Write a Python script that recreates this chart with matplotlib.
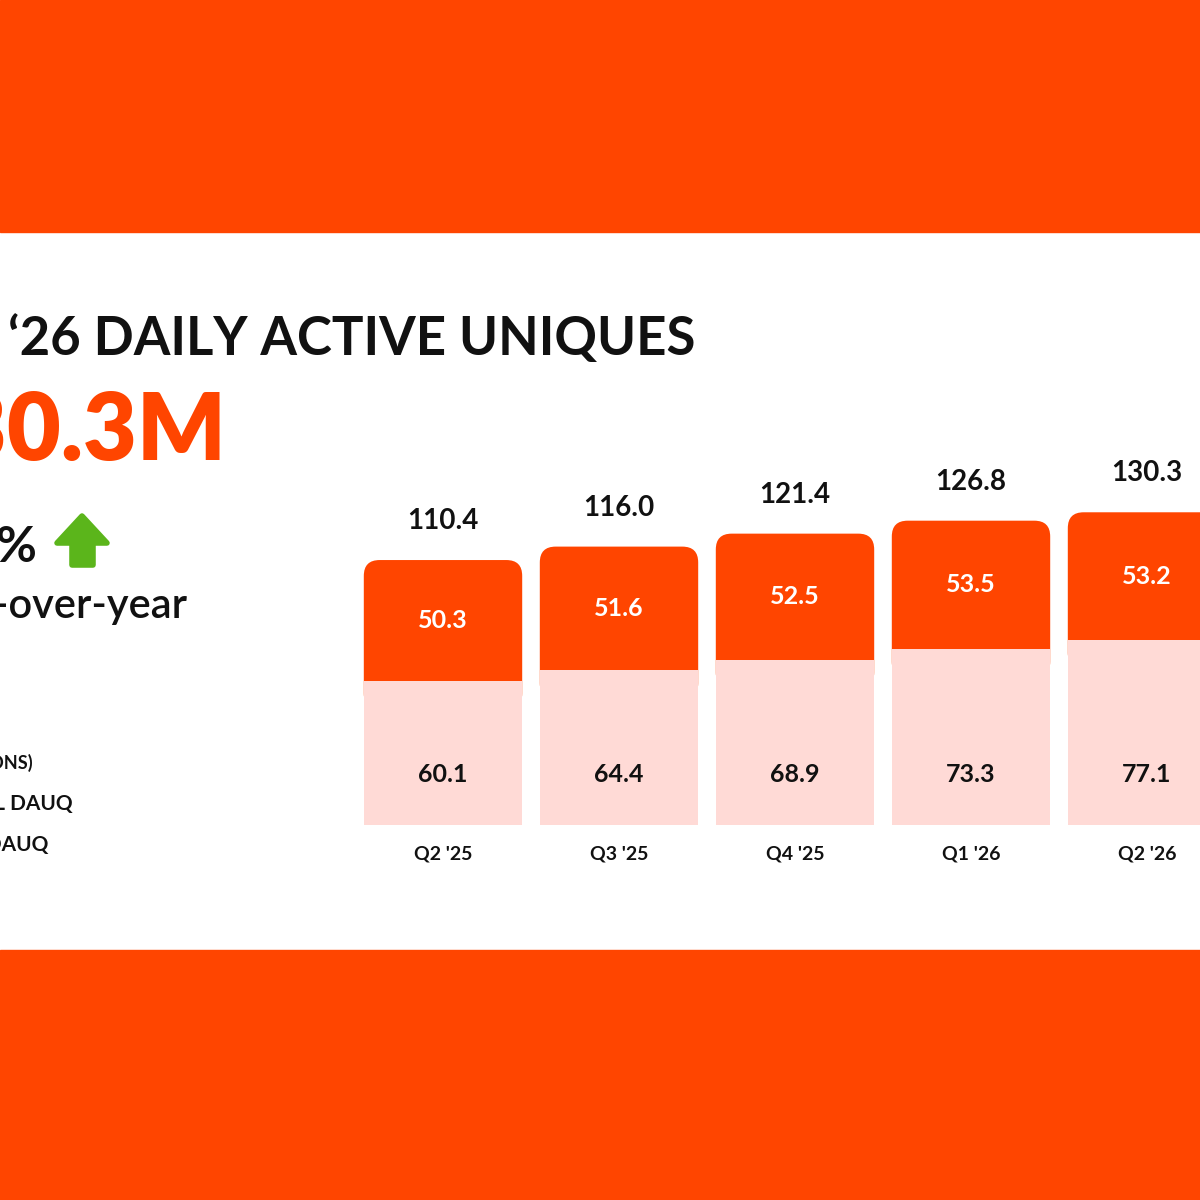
import numpy as np
import matplotlib
matplotlib.use("Agg")
import matplotlib.pyplot as plt
from matplotlib.patches import Rectangle, FancyBboxPatch, Polygon

plt.rcParams['font.family'] = ['Lato', 'DejaVu Sans']

quarters = ["Q2 '25", "Q3 '25", "Q4 '25", "Q1 '26", "Q2 '26"]
intl_dauq = [60.1, 64.4, 68.9, 73.3, 77.1]
us_dauq = [50.3, 51.6, 52.5, 53.5, 53.2]
totals = [110.4, 116.0, 121.4, 126.8, 130.3]

ORANGE = '#FF4500'
PINK = '#FFDAD6'
GREEN = '#5BB51B'
DARK = '#111111'

W, H = 1200, 1200
fig = plt.figure(figsize=(12, 12), dpi=100)
fig.patch.set_facecolor('white')

def fx(px):
    return px / W

def fy(py):
    return 1 - py / H

# orange bands top and bottom
fig.patches.append(Rectangle((0, fy(232)), 1, 232 / H, transform=fig.transFigure,
                             color=ORANGE, zorder=0))
fig.patches.append(Rectangle((0, 0), 1, 250 / H, transform=fig.transFigure,
                             color=ORANGE, zorder=0))

# left side text (cropped at the left edge in the reference)
fig.text(fx(695), fy(339), "Q2 \u201826 DAILY ACTIVE UNIQUES", ha='right', va='center',
         fontsize=38, fontweight='bold', color=DARK)
fig.text(fx(226), fy(433), "130.3M", ha='right', va='center',
         fontsize=67, fontweight='heavy', color=ORANGE)
fig.text(fx(38), fy(547), "18%", ha='right', va='center',
         fontsize=36, fontweight='bold', color=DARK)
fig.text(fx(187), fy(606), "Year-over-year", ha='right', va='center',
         fontsize=30, fontweight='semibold', color=DARK)
fig.text(fx(33), fy(763), "(IN MILLIONS)", ha='right', va='center',
         fontsize=13, fontweight='bold', color=DARK)
fig.text(fx(73), fy(804), "INTERNATIONAL DAUQ", ha='right', va='center',
         fontsize=15, fontweight='bold', color=DARK)
fig.text(fx(48), fy(845), "U.S. DAUQ", ha='right', va='center',
         fontsize=15, fontweight='bold', color=DARK)

# green up arrow
arrow_px = [(82, 516), (107, 543), (93, 543), (93, 565), (72, 565), (72, 543), (57, 543)]
fig.patches.append(Polygon([(fx(x), fy(y)) for x, y in arrow_px], closed=True,
                           transform=fig.transFigure, facecolor=GREEN, edgecolor=GREEN,
                           linewidth=4, joinstyle='round', zorder=2))

# bar chart axes: x unit = 176 px, y unit = 2.4 px, base at y=825 px
ax = fig.add_axes([fx(355), fy(825), 880 / W, 480 / H])
ax.set_xlim(-0.5, 4.5)
ax.set_ylim(0, 200)
ax.axis('off')
ax.patch.set_alpha(0)

x = np.arange(len(quarters))
width = 0.9
top_bars = ax.bar(x, us_dauq, width, bottom=intl_dauq, color=ORANGE, zorder=2)
# swap the orange rectangles for ones with rounded top corners
aspect = 176 / 2.4
for rect in top_bars:
    rect.set_visible(False)
    rb = FancyBboxPatch((rect.get_x(), rect.get_y() - 12), rect.get_width(),
                        rect.get_height() + 12,
                        boxstyle="round,pad=0,rounding_size=0.09",
                        mutation_aspect=aspect, facecolor=ORANGE, edgecolor='none',
                        zorder=2)
    ax.add_patch(rb)
ax.bar(x, intl_dauq, width, color=PINK, zorder=3)

for i in range(len(quarters)):
    ax.annotate(f"{totals[i]:.1f}", (x[i], totals[i]), xytext=(0, 28),
                textcoords='offset points', ha='center', va='center',
                fontsize=20, fontweight='bold', color=DARK)
    ax.text(x[i], intl_dauq[i] + us_dauq[i] / 2, f"{us_dauq[i]:.1f}", ha='center',
            va='center', fontsize=18, fontweight='bold', color='white', zorder=4)
    ax.text(x[i], 21, f"{intl_dauq[i]:.1f}", ha='center', va='center',
            fontsize=18, fontweight='bold', color=DARK, zorder=4)
    ax.annotate(quarters[i], (x[i], 0), xytext=(0, -21), textcoords='offset points',
                ha='center', va='center', fontsize=14, fontweight='bold', color=DARK)

fig.savefig('out.png', dpi=100, facecolor='white')
